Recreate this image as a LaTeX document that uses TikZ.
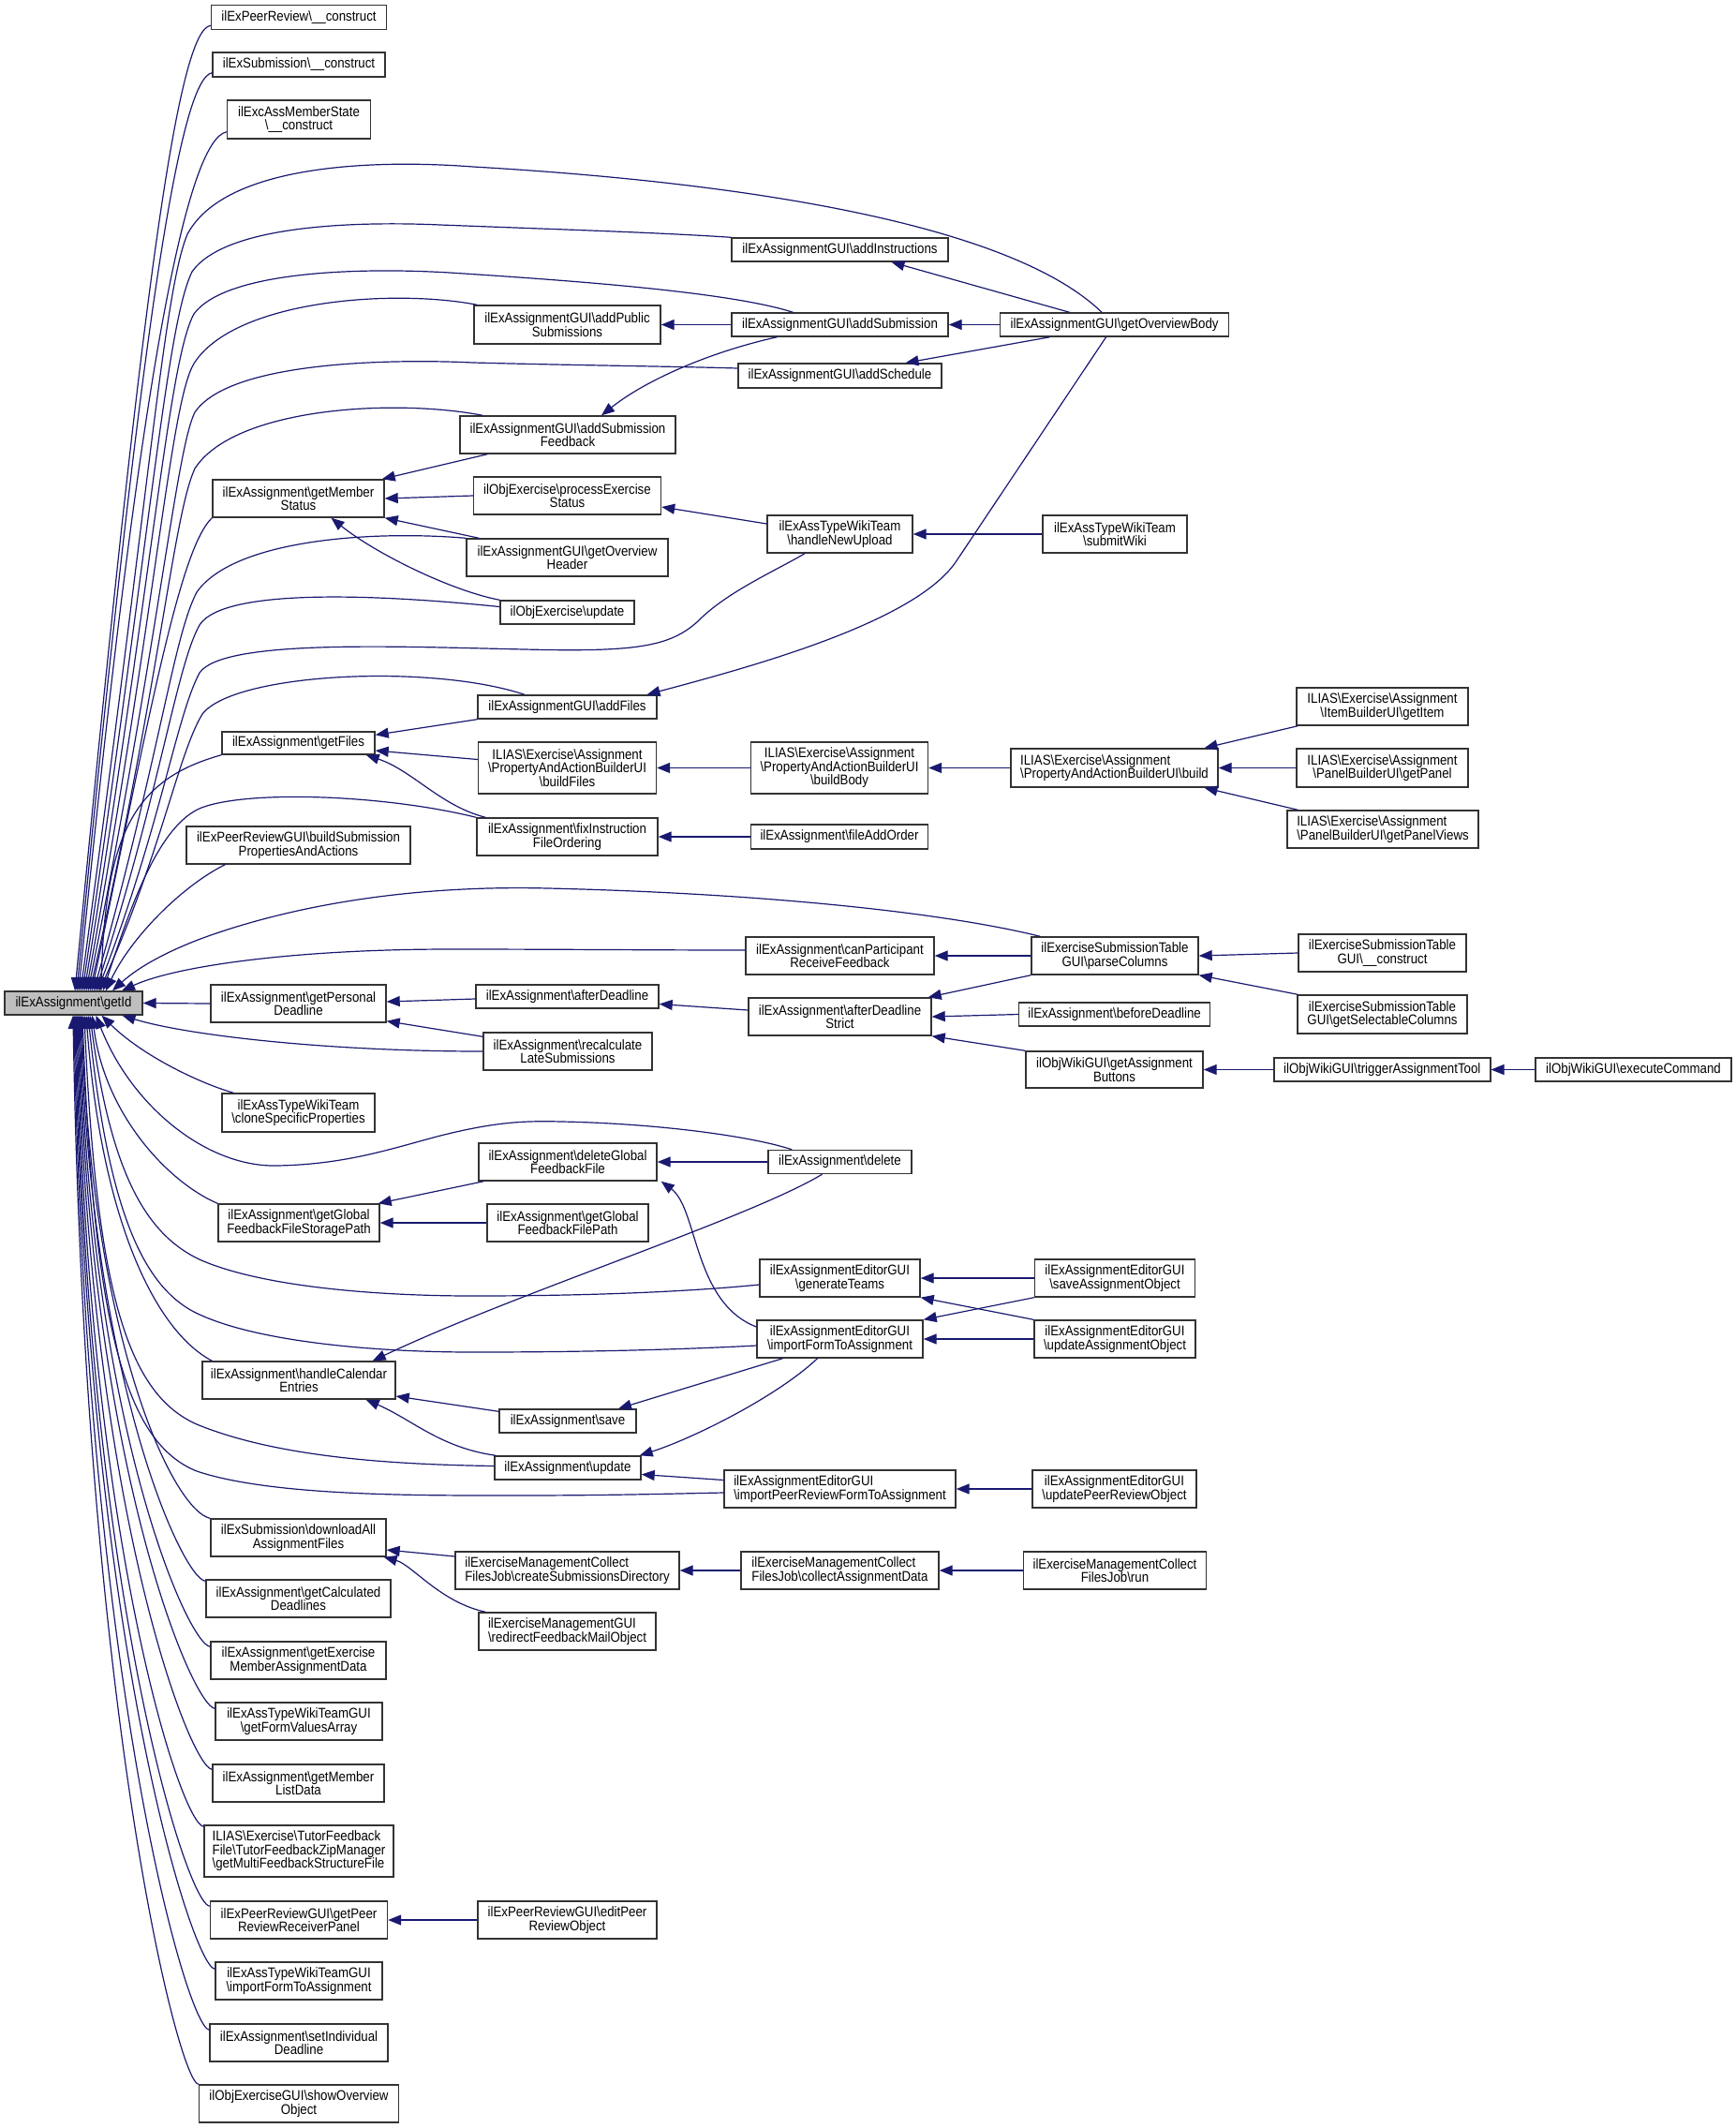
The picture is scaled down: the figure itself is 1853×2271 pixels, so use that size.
\documentclass[tikz,border=0pt]{standalone}
\usepackage{fontspec}
\newfontfamily\nodefont{Liberation Sans}[FakeStretch=0.885]
\usetikzlibrary{arrows.meta}
\definecolor{edgec}{HTML}{191970}
\definecolor{idfill}{HTML}{BFBFBF}
\def\bksl{\textbackslash}
\tikzset{
  box/.style={draw=black!80, line width=1.4pt, fill=white, inner xsep=2pt, inner ysep=1pt, align=center, font=\nodefont\fontsize{15}{14.5}\selectfont},
  lbox/.style={box, align=left},
  cl/.style={draw=edgec, line width=1.2pt, {Triangle[length=14pt,width=11pt]}-},
}
\begin{document}
\begin{tikzpicture}[x=1pt,y=-1pt]
\useasboundingbox (0,0) rectangle (1853,2271);
\fill[white] (0,0) rectangle (1853,2271);
% ---- root
\node[box, fill=idfill, minimum width=147pt, minimum height=25pt] (gid) at (78.5,1070.5) {ilExAssignment\bksl getId};
% ---- column 2
\node[box, minimum width=187pt, minimum height=26pt] (pr) at (319,18.5) {ilExPeerReview\bksl\_\_construct};
\node[box, minimum width=184pt, minimum height=26pt] (sub) at (319,69) {ilExSubmission\bksl\_\_construct};
\node[box, minimum width=153pt, minimum height=41pt] (ems) at (319,127.5) {ilExcAssMemberState\\\bksl\_\_construct};
\node[box, minimum width=183pt, minimum height=40pt] (gms) at (318.5,532) {ilExAssignment\bksl getMember\\Status};
\node[box, minimum width=163pt, minimum height=24pt] (gf) at (318.5,793) {ilExAssignment\bksl getFiles};
\node[box, minimum width=239pt, minimum height=40pt] (bsp) at (318.5,902) {ilExPeerReviewGUI\bksl buildSubmission\\PropertiesAndActions};
\node[box, minimum width=187pt, minimum height=40pt] (gpd) at (318.5,1071) {ilExAssignment\bksl getPersonal\\Deadline};
\node[box, minimum width=163pt, minimum height=41pt] (csp) at (318.5,1187.5) {ilExAssTypeWikiTeam\\\bksl cloneSpecificProperties};
\node[box, minimum width=172pt, minimum height=40pt] (ggs) at (319,1305) {ilExAssignment\bksl getGlobal\\FeedbackFileStoragePath};
\node[box, minimum width=206pt, minimum height=40pt] (hce) at (319,1473) {ilExAssignment\bksl handleCalendar\\Entries};
\node[box, minimum width=187pt, minimum height=40pt] (dla) at (318.5,1641) {ilExSubmission\bksl downloadAll\\AssignmentFiles};
\node[box, minimum width=197pt, minimum height=40pt] (gcd) at (318.5,1706) {ilExAssignment\bksl getCalculated\\Deadlines};
\node[box, minimum width=187pt, minimum height=40pt] (gem) at (318.5,1772) {ilExAssignment\bksl getExercise\\MemberAssignmentData};
\node[box, minimum width=178pt, minimum height=40pt] (gfv) at (319,1837) {ilExAssTypeWikiTeamGUI\\\bksl getFormValuesArray};
\node[box, minimum width=183pt, minimum height=40pt] (gml) at (318.5,1903) {ilExAssignment\bksl getMember\\ListData};
\node[lbox, minimum width=202pt, minimum height=55pt] (tfz) at (319,1975.5) {ILIAS\bksl Exercise\bksl TutorFeedback\\File\bksl TutorFeedbackZipManager\\\bksl getMultiFeedbackStructureFile};
\node[box, minimum width=189pt, minimum height=40pt] (grp) at (319,2049) {ilExPeerReviewGUI\bksl getPeer\\ReviewReceiverPanel};
\node[box, minimum width=178pt, minimum height=40pt] (wif) at (319,2114) {ilExAssTypeWikiTeamGUI\\\bksl importFormToAssignment};
\node[box, minimum width=190pt, minimum height=40pt] (sid) at (319,2180) {ilExAssignment\bksl setIndividual\\Deadline};
\node[box, minimum width=213pt, minimum height=40pt] (soo) at (319,2245) {ilObjExerciseGUI\bksl showOverview\\Object};
% ---- column 3
\node[box, minimum width=199pt, minimum height=41pt] (aps) at (605.5,346.5) {ilExAssignmentGUI\bksl addPublic\\Submissions};
\node[box, minimum width=230pt, minimum height=40pt] (asf) at (606,464) {ilExAssignmentGUI\bksl addSubmission\\Feedback};
\node[box, minimum width=200pt, minimum height=40pt] (pes) at (605.5,529) {ilObjExercise\bksl processExercise\\Status};
\node[box, minimum width=215pt, minimum height=40pt] (goh) at (605.5,595) {ilExAssignmentGUI\bksl getOverview\\Header};
\node[box, minimum width=143pt, minimum height=25pt] (oeu) at (605.5,653.5) {ilObjExercise\bksl update};
\node[box, minimum width=191pt, minimum height=25pt] (af) at (605.5,754.5) {ilExAssignmentGUI\bksl addFiles};
\node[box, minimum width=190pt, minimum height=55pt] (bf) at (605.5,819.5) {ILIAS\bksl Exercise\bksl Assignment\\\bksl PropertyAndActionBuilderUI\\\bksl buildFiles};
\node[box, minimum width=193pt, minimum height=40pt] (fio) at (605.5,893) {ilExAssignment\bksl fixInstruction\\FileOrdering};
\node[box, minimum width=195pt, minimum height=25pt] (ad) at (605.5,1063.5) {ilExAssignment\bksl afterDeadline};
\node[box, minimum width=180pt, minimum height=40pt] (rls) at (606,1122) {ilExAssignment\bksl recalculate\\LateSubmissions};
\node[box, minimum width=190pt, minimum height=40pt] (dgf) at (606,1240) {ilExAssignment\bksl deleteGlobal\\FeedbackFile};
\node[box, minimum width=172pt, minimum height=40pt] (ggp) at (606,1305) {ilExAssignment\bksl getGlobal\\FeedbackFilePath};
\node[box, minimum width=146pt, minimum height=25pt] (sv) at (606,1516.5) {ilExAssignment\bksl save};
\node[box, minimum width=156pt, minimum height=25pt] (upd) at (606,1566.5) {ilExAssignment\bksl update};
\node[lbox, minimum width=239pt, minimum height=40pt] (csd) at (605.5,1676) {ilExerciseManagementCollect\\FilesJob\bksl createSubmissionsDirectory};
\node[lbox, minimum width=189pt, minimum height=40pt] (rfm) at (605.5,1741) {ilExerciseManagementGUI\\\bksl redirectFeedbackMailObject};
\node[box, minimum width=191pt, minimum height=40pt] (epr) at (605.5,2049) {ilExPeerReviewGUI\bksl editPeer\\ReviewObject};
% ---- column 4
\node[box, minimum width=231pt, minimum height=25pt] (ains) at (896.5,266.5) {ilExAssignmentGUI\bksl addInstructions};
\node[box, minimum width=231pt, minimum height=25pt] (asub) at (896.5,346.5) {ilExAssignmentGUI\bksl addSubmission};
\node[box, minimum width=217pt, minimum height=26pt] (asch) at (896.5,401) {ilExAssignmentGUI\bksl addSchedule};
\node[box, minimum width=155pt, minimum height=40pt] (hnu) at (896.5,570) {ilExAssTypeWikiTeam\\\bksl handleNewUpload};
\node[box, minimum width=189pt, minimum height=55pt] (bb) at (896,819.5) {ILIAS\bksl Exercise\bksl Assignment\\\bksl PropertyAndActionBuilderUI\\\bksl buildBody};
\node[box, minimum width=189pt, minimum height=26pt] (fao) at (896,893) {ilExAssignment\bksl fileAddOrder};
\node[box, minimum width=201pt, minimum height=40pt] (cpr) at (896.5,1020) {ilExAssignment\bksl canParticipant\\ReceiveFeedback};
\node[box, minimum width=195pt, minimum height=40pt] (ads) at (896.5,1085) {ilExAssignment\bksl afterDeadline\\Strict};
\node[box, minimum width=153pt, minimum height=25pt] (del) at (896.5,1240) {ilExAssignment\bksl delete};
\node[box, minimum width=171pt, minimum height=40pt] (gt) at (896.5,1364) {ilExAssignmentEditorGUI\\\bksl generateTeams};
\node[box, minimum width=177pt, minimum height=40pt] (ifa) at (896.5,1429) {ilExAssignmentEditorGUI\\\bksl importFormToAssignment};
\node[lbox, minimum width=247pt, minimum height=40pt] (iprf) at (896.5,1589) {ilExAssignmentEditorGUI\\\bksl importPeerReviewFormToAssignment};
\node[lbox, minimum width=211pt, minimum height=40pt] (cad) at (896.5,1676) {ilExerciseManagementCollect\\FilesJob\bksl collectAssignmentData};
% ---- column 5
\node[box, minimum width=244pt, minimum height=25pt] (gob) at (1189.6,346.5) {ilExAssignmentGUI\bksl getOverviewBody};
\node[box, minimum width=154pt, minimum height=40pt] (sw) at (1190,570) {ilExAssTypeWikiTeam\\\bksl submitWiki};
\node[lbox, minimum width=221pt, minimum height=41pt] (bld) at (1189.5,819.5) {ILIAS\bksl Exercise\bksl Assignment\\\bksl PropertyAndActionBuilderUI\bksl build};
\node[box, minimum width=178pt, minimum height=40pt] (pc) at (1190,1020) {ilExerciseSubmissionTable\\GUI\bksl parseColumns};
\node[box, minimum width=204pt, minimum height=25pt] (bd) at (1189.6,1082.5) {ilExAssignment\bksl beforeDeadline};
\node[box, minimum width=189pt, minimum height=39pt] (gab) at (1189.5,1141.5) {ilObjWikiGUI\bksl getAssignment\\Buttons};
\node[box, minimum width=171pt, minimum height=40pt] (sao) at (1190,1364) {ilExAssignmentEditorGUI\\\bksl saveAssignmentObject};
\node[box, minimum width=172pt, minimum height=40pt] (uao) at (1190,1429) {ilExAssignmentEditorGUI\\\bksl updateAssignmentObject};
\node[box, minimum width=175pt, minimum height=40pt] (upr) at (1189.5,1589) {ilExAssignmentEditorGUI\\\bksl updatePeerReviewObject};
\node[box, minimum width=195pt, minimum height=40pt] (run) at (1190,1676) {ilExerciseManagementCollect\\FilesJob\bksl run};
% ---- column 6 / 7
\node[box, minimum width=183pt, minimum height=40pt] (gi) at (1475.5,754) {ILIAS\bksl Exercise\bksl Assignment\\\bksl ItemBuilderUI\bksl getItem};
\node[box, minimum width=183pt, minimum height=41pt] (gp) at (1475.5,819.5) {ILIAS\bksl Exercise\bksl Assignment\\\bksl PanelBuilderUI\bksl getPanel};
\node[lbox, minimum width=204pt, minimum height=40pt] (gpv) at (1476,885) {ILIAS\bksl Exercise\bksl Assignment\\\bksl PanelBuilderUI\bksl getPanelViews};
\node[box, minimum width=179pt, minimum height=40pt] (stc) at (1475.5,1017) {ilExerciseSubmissionTable\\GUI\bksl\_\_construct};
\node[box, minimum width=181pt, minimum height=41pt] (gsc) at (1475.5,1082.5) {ilExerciseSubmissionTable\\GUI\bksl getSelectableColumns};
\node[box, minimum width=231pt, minimum height=25pt] (tat) at (1475.3,1141.5) {ilObjWikiGUI\bksl triggerAssignmentTool};
\node[box, minimum width=209pt, minimum height=25pt] (ec) at (1743.5,1141.5) {ilObjWikiGUI\bksl executeCommand};

% ================= edges into getId (from above)
\draw[cl] ([xshift=1.5pt]gid.north) .. controls (152,305) and (190,32) .. ([yshift=5pt]pr.south west);
\draw[cl] ([xshift=3.5pt]gid.north) .. controls (151,342) and (192,84) .. ([yshift=5pt]sub.south west);
\draw[cl] ([xshift=5.5pt]gid.north) .. controls (150,390) and (200,150) .. ([yshift=8pt]ems.south west);
\draw[cl] ([xshift=7.5pt]gid.north) .. controls (160,520) and (175,310) .. (200,250) .. controls (240,175) and (400,170) .. (505,178) .. controls (800,195) and (1080,240) .. ([xshift=-13.6pt]gob.north);
\draw[cl] ([xshift=9.5pt]gid.north) .. controls (162,560) and (178,345) .. (205,290) .. controls (240,240) and (380,236) .. (470,240) .. controls (600,245) and (700,248) .. (ains.north west);
\draw[cl] ([xshift=11.5pt]gid.north) .. controls (165,600) and (180,385) .. (207,335) .. controls (240,290) and (380,285) .. (480,291) .. controls (620,300) and (780,312) .. ([xshift=-50pt]asub.north);
\draw[cl] ([xshift=13.5pt]gid.north) .. controls (168,640) and (182,430) .. (207,388) .. controls (250,320) and (420,308) .. ([xshift=4pt]aps.north west);
\draw[cl] ([xshift=15.5pt]gid.north) .. controls (170,680) and (188,480) .. (208,440) .. controls (245,385) and (420,383) .. (505,387) .. controls (620,390) and (720,391) .. ([yshift=8pt]asch.west);
\draw[cl] ([xshift=17.5pt]gid.north) .. controls (172,720) and (185,550) .. (208,500) .. controls (250,435) and (420,425) .. ([xshift=25pt]asf.north west);
\draw[cl] ([xshift=19.5pt]gid.north) .. controls (160,760) and (192,585) .. (gms.south west);
\draw[cl] ([xshift=21.5pt]gid.north) .. controls (172,800) and (185,680) .. (210,632) .. controls (250,575) and (400,566) .. (goh.north west);
\draw[cl] ([xshift=23.5pt]gid.north) .. controls (172,840) and (188,712) .. (213,667) .. controls (240,625) and (420,636) .. ([yshift=6pt]oeu.west);
\draw[cl] ([xshift=25.5pt]gid.north) .. controls (172,880) and (188,765) .. (213,718) .. controls (238,682) and (420,690) .. (560,693) .. controls (680,696) and (715,690) .. (745,663) .. controls (775,632) and (830,608) .. ([xshift=-37.5pt]hnu.south);
\draw[cl] ([xshift=27.5pt]gid.north) .. controls (172,910) and (190,805) .. (216,762) .. controls (250,718) and (460,708) .. ([xshift=-45.5pt]af.north);
\draw[cl] ([xshift=29.5pt]gid.north) .. controls (112,880) and (150,830) .. (gf.south west);
\draw[cl] ([xshift=31.5pt]gid.north) .. controls (140,965) and (170,880) .. (215,862) .. controls (265,843) and (410,848) .. (fio.north west);
\draw[cl] ([xshift=34.5pt]gid.north) .. controls (140,1000) and (195,945) .. ([xshift=42pt]bsp.south west);
\draw[cl] ([xshift=41.5pt]gid.north) .. controls (150,1030) and (185,1012) .. (225,998) .. controls (340,958) and (470,945) .. (585,948) .. controls (800,953) and (1000,972) .. ([xshift=10pt]pc.north west);
\draw[cl] ([xshift=51.5pt]gid.north) .. controls (190,1030) and (320,1013) .. (480,1013) .. controls (600,1013) and (700,1014) .. ([yshift=6pt]cpr.west);
\draw[cl] (gid.east) -- (gpd.west);
% ================= edges into getId (from below)
\draw[cl] ([xshift=52pt]gid.south) .. controls (200,1105) and (350,1122) .. (rls.west);
\draw[cl] ([xshift=30pt]gid.south) .. controls (150,1125) and (210,1155) .. ([xshift=13pt]csp.north west);
\draw[cl] ([xshift=24pt]gid.south) .. controls (140,1180) and (220,1245) .. (294,1244) .. controls (370,1243) and (420,1225) .. (470,1212) .. controls (530,1197) and (560,1196) .. (600,1197) .. controls (700,1199) and (800,1212) .. ([xshift=26pt]del.north west);
\draw[cl] ([xshift=20pt]gid.south) .. controls (112,1190) and (180,1262) .. (ggs.north west);
\draw[cl] ([xshift=17.5pt]gid.south) .. controls (118,1250) and (155,1318) .. (215,1345) .. controls (280,1373) and (400,1383) .. (505,1383) .. controls (650,1383) and (750,1377) .. ([yshift=-7pt]gt.west);
\draw[cl] ([xshift=15.5pt]gid.south) .. controls (115,1285) and (150,1370) .. (207,1400) .. controls (270,1432) and (400,1443) .. (505,1443) .. controls (650,1443) and (750,1439) .. ([yshift=-7pt]ifa.west);
\draw[cl] ([xshift=13.5pt]gid.south) .. controls (108,1300) and (165,1420) .. ([xshift=11pt]hce.north west);
\draw[cl] ([xshift=11.5pt]gid.south) .. controls (103,1385) and (138,1488) .. (210,1520) .. controls (300,1557) and (430,1563) .. ([yshift=2pt]upd.west);
\draw[cl] ([xshift=9.5pt]gid.south) .. controls (100,1420) and (135,1540) .. (210,1570) .. controls (290,1597) and (450,1596) .. (551,1596) .. controls (650,1596) and (720,1594) .. ([yshift=-4pt]iprf.west);
\draw[cl] ([xshift=8.5pt]gid.south) .. controls (99,1433) and (185,1612) .. (dla.north west);
\draw[cl] ([xshift=7.5pt]gid.south) .. controls (98,1476) and (195,1685) .. ([yshift=-2pt]gcd.north west);
\draw[cl] ([xshift=6.5pt]gid.south) .. controls (97,1522) and (200,1754) .. ([yshift=-6pt]gem.north west);
\draw[cl] ([xshift=5.5pt]gid.south) .. controls (96,1565) and (205,1820) .. ([yshift=-7pt]gfv.north west);
\draw[cl] ([xshift=4.5pt]gid.south) .. controls (95,1607) and (202,1885) .. ([yshift=-6pt]gml.north west);
\draw[cl] ([xshift=3.5pt]gid.south) .. controls (94,1646) and (193,1946) .. ([yshift=-2pt]tfz.north west);
\draw[cl] ([xshift=2.5pt]gid.south) .. controls (93,1701) and (199,2031) .. ([yshift=-6pt]grp.north west);
\draw[cl] ([xshift=1.5pt]gid.south) .. controls (92,1746) and (205,2098) .. ([yshift=-8pt]wif.north west);
\draw[cl] ([xshift=0.5pt]gid.south) .. controls (91,1787) and (199,2163) .. ([yshift=-7pt]sid.north west);
\draw[cl] ([xshift=-0.5pt]gid.south) .. controls (90,1825) and (190,2221) .. (soo.north west);
% ================= other edges
\draw[cl] ([xshift=-3pt]gms.north east) -- ([xshift=30pt]asf.south west);
\draw[cl] (gms.east) -- (pes.west);
\draw[cl] (gms.south east) -- ([xshift=14pt]goh.north west);
\draw[cl] ([xshift=35pt]gms.south) .. controls (400,590) and (480,630) .. (oeu.north west);
\draw[cl] (aps.east) -- (asub.west);
\draw[cl] ([xshift=36pt]asf.north) .. controls (690,405) and (760,375) .. ([xshift=-67pt]asub.south);
\draw[cl] ([xshift=55pt]ains.south) -- ([xshift=-48pt]gob.north);
\draw[cl] (asub.east) -- (gob.west);
\draw[cl] ([xshift=70pt]asch.north) -- ([xshift=-69pt]gob.south);
\draw[cl] ([xshift=85pt]af.north) .. controls (800,712) and (975,665) .. (1020,600) -- ([xshift=-9pt]gob.south);
\draw[cl] ([yshift=-12pt]pes.east) -- ([yshift=11pt]hnu.west);
\draw[cl] (hnu.east) -- (sw.west);
\draw[cl] ([yshift=-4pt]gf.north east) -- (af.south west);
\draw[cl] ([yshift=-8pt]gf.east) -- ([yshift=9pt]bf.west);
\draw[cl] ([xshift=-10pt]gf.south east) .. controls (440,822) and (470,860) .. ([xshift=10pt]fio.north west);
\draw[cl] (bf.east) -- (bb.west);
\draw[cl] (bb.east) -- (bld.west);
\draw[cl] ([xshift=96pt]bld.north) -- ([xshift=2pt]gi.south west);
\draw[cl] (bld.east) -- (gp.west);
\draw[cl] ([xshift=96pt]bld.south) -- ([xshift=12pt]gpv.north west);
\draw[cl] (fio.east) -- (fao.west);
\draw[cl] ([yshift=2pt]gpd.east) -- ([yshift=-2.5pt]ad.west);
\draw[cl] ([yshift=2pt]gpd.south east) -- ([yshift=-5pt]rls.north west);
\draw[cl] ([yshift=-8pt]ad.east) -- ([yshift=7pt]ads.west);
\draw[cl] (cpr.east) -- (pc.west);
\draw[cl] ([xshift=-4pt]ads.north east) -- (pc.south west);
\draw[cl] (ads.east) -- (bd.west);
\draw[cl] (ads.south east) -- (gab.north west);
\draw[cl] (pc.east) -- (stc.west);
\draw[cl] (pc.south east) -- ([xshift=1pt]gsc.north west);
\draw[cl] (gab.east) -- (tat.west);
\draw[cl] (tat.east) -- (ec.west);
\draw[cl] ([xshift=-2pt]ggs.north east) -- ([xshift=6pt]dgf.south west);
\draw[cl] (ggs.east) -- (ggp.west);
\draw[cl] (dgf.east) -- (del.west);
\draw[cl] ([xshift=4pt]dgf.south east) .. controls (745,1290) and (740,1390) .. ([yshift=13pt]ifa.west);
\draw[cl] ([xshift=-25pt]hce.north east) .. controls (550,1380) and (800,1300) .. ([xshift=-19pt]del.south);
\draw[cl] ([yshift=-17pt]hce.east) -- ([yshift=-3pt]sv.north west);
\draw[cl] ([xshift=-32pt]hce.south east) .. controls (440,1515) and (470,1545) .. ([xshift=2pt]upd.north west);
\draw[cl] ([xshift=54pt]sv.north) -- ([xshift=-61pt]ifa.south);
\draw[cl] ([xshift=-2pt]upd.north east) .. controls (740,1535) and (830,1490) .. ([xshift=-24pt]ifa.south);
\draw[cl] ([yshift=-7pt]upd.east) -- ([yshift=9.5pt]iprf.west);
\draw[cl] (gt.east) -- (sao.west);
\draw[cl] (gt.south east) -- (uao.north west);
\draw[cl] (ifa.north east) -- (sao.south west);
\draw[cl] (ifa.east) -- (uao.west);
\draw[cl] (iprf.east) -- (upr.west);
\draw[cl] ([yshift=-13pt]dla.east) -- ([yshift=15pt]csd.west);
\draw[cl] ([xshift=-3pt]dla.south east) .. controls (440,1670) and (470,1710) .. ([xshift=8pt]rfm.north west);
\draw[cl] (csd.east) -- (cad.west);
\draw[cl] (cad.east) -- (run.west);
\draw[cl] (grp.east) -- (epr.west);
\end{tikzpicture}
\end{document}
